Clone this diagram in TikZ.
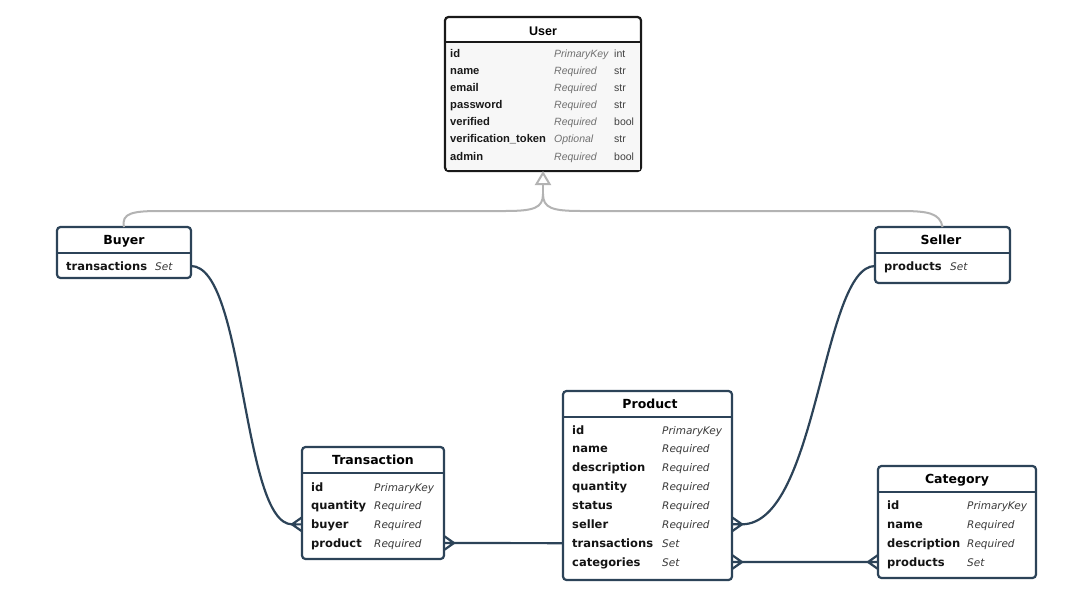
\documentclass[tikz,border=0pt]{standalone}
\usepackage{fontspec}
\setmainfont{DejaVu Sans}
\newfontfamily\userfont{Liberation Sans}
\usetikzlibrary{arrows.meta}

\definecolor{navy}{HTML}{2C4358}
\definecolor{inhgray}{HTML}{B3B3B3}
\definecolor{userbg}{HTML}{F7F7F7}
\definecolor{kindgray}{HTML}{3A3A3A}
\definecolor{ukind}{HTML}{707070}

\tikzset{
  table/.style={draw=navy, line width=2.2pt, rounded corners=3.5pt, fill=white,
                anchor=north west, inner sep=0pt, outer sep=0pt},
  usertable/.style={table, draw=black!90},
  hdr/.style={draw=navy, line width=2.2pt},
  title/.style={anchor=base, inner sep=0pt, text=black, font=\fontsize{12.5}{14}\selectfont\bfseries},
  utitle/.style={anchor=base, inner sep=0pt, text=black, font=\userfont\fontsize{12.5}{14}\selectfont\bfseries},
  fname/.style={anchor=base west, inner sep=0pt, text=black!92,
                font=\fontsize{11.5}{13}\selectfont\bfseries},
  fkind/.style={anchor=base west, inner sep=0pt, text=kindgray,
                font=\fontsize{10.5}{12}\selectfont\itshape},
  uname/.style={anchor=base west, inner sep=0pt, text=black!90,
                font=\userfont\fontsize{11.2}{13}\selectfont\bfseries},
  ukindst/.style={anchor=base west, inner sep=0pt, text=ukind,
                font=\userfont\fontsize{10.5}{12}\selectfont\itshape},
  utype/.style={anchor=base west, inner sep=0pt, text=black!75,
                font=\userfont\fontsize{10.5}{12}\selectfont},
  rel/.style={draw=navy, line width=2.2pt},
  inherit/.style={draw=inhgray, line width=2pt},
  crowfoot/.pic={\draw[rel, line join=miter] (0,-7) -- (10,0) -- (0,7) (0,0) -- (10,0);}
}

\begin{document}
\begin{tikzpicture}[x=1pt, y=-1pt]
\useasboundingbox[fill=white] (0,0) rectangle (1075,595);

% ---------- User ----------
\node[usertable, minimum width=196pt, minimum height=154pt] (user) at (445,17) {};
\fill[userbg] (446.5,43) rectangle (639.5,169.5);
\draw[hdr, draw=black!90] ([yshift=-25pt]user.north west) -- ([yshift=-25pt]user.north east);
\node[utitle] (user-title) at (543,35.5) {User};
\foreach \n/\k/\t [count=\i] in {id/PrimaryKey/int, name/Required/str, email/Required/str,
    password/Required/str, verified/Required/bool, verification\_token/Optional/str,
    admin/Required/bool} {
  \node[uname] (user-n\i) at (450,{53+(\i-1)*17.17+4}) {\n};
  \node[ukindst] (user-k\i) at (554,{53+(\i-1)*17.17+4}) {\k};
  \node[utype] (user-t\i) at (614,{53+(\i-1)*17.17+4}) {\t};
}

% ---------- Buyer ----------
\node[table, minimum width=134pt, minimum height=51pt] (buyer) at (57,227) {};
\draw[hdr] ([yshift=-26pt]buyer.north west) -- ([yshift=-26pt]buyer.north east);
\node[title] (buyer-title) at (124,244.5) {Buyer};
\node[fname] (buyer-n1) at (66,270) {transactions};
\node[fkind] (buyer-k1) at (155,270) {Set};
\coordinate (buyer-r1) at (191,266);

% ---------- Seller ----------
\node[table, minimum width=135pt, minimum height=56pt] (seller) at (875,227) {};
\draw[hdr] ([yshift=-26pt]seller.north west) -- ([yshift=-26pt]seller.north east);
\node[title] (seller-title) at (941,244.5) {Seller};
\node[fname] (seller-n1) at (884,270) {products};
\node[fkind] (seller-k1) at (950,270) {Set};
\coordinate (seller-r1) at (875,266);

% ---------- Transaction ----------
\node[table, minimum width=142pt, minimum height=112pt] (transaction) at (302,447) {};
\draw[hdr] ([yshift=-26pt]transaction.north west) -- ([yshift=-26pt]transaction.north east);
\node[title] (transaction-title) at (373,464.5) {Transaction};
\foreach \n/\k [count=\i] in {id/PrimaryKey, quantity/Required, buyer/Required, product/Required} {
  \node[fname] (transaction-n\i) at (311,{487+(\i-1)*18.67+4}) {\n};
  \node[fkind] (transaction-k\i) at (374,{487+(\i-1)*18.67+4}) {\k};
  \coordinate (transaction-r\i) at (302,{487+(\i-1)*18.67});
}

% ---------- Product ----------
\node[table, minimum width=169pt, minimum height=189pt] (product) at (563,391) {};
\draw[hdr] ([yshift=-26pt]product.north west) -- ([yshift=-26pt]product.north east);
\node[title] (product-title) at (650,408.5) {Product};
\foreach \n/\k [count=\i] in {id/PrimaryKey, name/Required, description/Required,
    quantity/Required, status/Required, seller/Required, transactions/Set, categories/Set} {
  \node[fname] (product-n\i) at (572,{430+(\i-1)*18.86+4}) {\n};
  \node[fkind] (product-k\i) at (662,{430+(\i-1)*18.86+4}) {\k};
  \coordinate (product-r\i) at (563,{430+(\i-1)*18.86});
}

% ---------- Category ----------
\node[table, minimum width=158pt, minimum height=112pt] (category) at (878,466) {};
\draw[hdr] ([yshift=-26pt]category.north west) -- ([yshift=-26pt]category.north east);
\node[title] (category-title) at (957,483.5) {Category};
\foreach \n/\k [count=\i] in {id/PrimaryKey, name/Required, description/Required, products/Set} {
  \node[fname] (category-n\i) at (887,{505+(\i-1)*19+4}) {\n};
  \node[fkind] (category-k\i) at (967,{505+(\i-1)*19+4}) {\k};
  \coordinate (category-r\i) at (878,{505+(\i-1)*19});
}

% ---------- inheritance: Buyer, Seller -> User ----------
\coordinate (junction) at (543,194);
\draw[inherit] (buyer.north) .. controls (121,213) and (133,211) .. (160,211)
  -- (505,211) .. controls (534,211) and (543,208) .. (junction);
\draw[inherit] (seller.north) .. controls (940,213) and (928,211) .. (900,211)
  -- (581,211) .. controls (552,211) and (543,208) .. (junction);
\draw[inherit, -{Triangle[open, length=14pt, width=16pt]}] (junction) -- (user.south);

% ---------- relations ----------
% Buyer.transactions -< Transaction.buyer
\coordinate (t-buyer) at (transaction.west |- transaction-r3);
\coordinate (t-buyer-tip) at ([xshift=-10pt]t-buyer);
\draw[rel] (buyer-r1) .. controls (245,266) and (242,524) .. (t-buyer-tip);
\pic[xscale=-1] at (t-buyer) {crowfoot};

% Transaction.product >- Product.transactions
\coordinate (t-product) at (transaction.east |- transaction-r4);
\coordinate (t-product-tip) at ([xshift=10pt]t-product);
\coordinate (p-trans) at (product.west |- product-r7);
\draw[rel] (t-product-tip) -- (p-trans);
\pic at (t-product) {crowfoot};

% Seller.products -< Product.seller
\coordinate (p-seller) at (product.east |- product-r6);
\coordinate (p-seller-tip) at ([xshift=10pt]p-seller);
\draw[rel] (seller-r1) .. controls (822,266) and (818,524) .. (p-seller-tip);
\pic at (p-seller) {crowfoot};

% Product.categories >-< Category.products
\coordinate (p-cat) at (product.east |- product-r8);
\coordinate (p-cat-tip) at ([xshift=10pt]p-cat);
\coordinate (c-prod) at (category.west |- category-r4);
\coordinate (c-prod-tip) at ([xshift=-10pt]c-prod);
\draw[rel] (p-cat-tip) -- (c-prod-tip);
\pic at (p-cat) {crowfoot};
\pic[xscale=-1] at (c-prod) {crowfoot};
\end{tikzpicture}
\end{document}
